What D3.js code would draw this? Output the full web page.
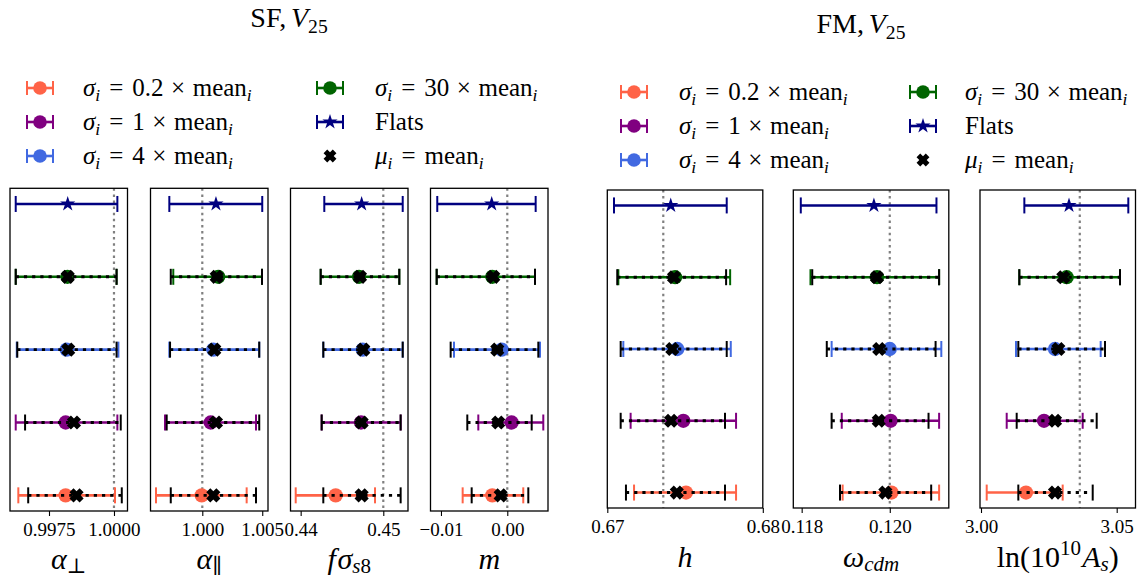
<!DOCTYPE html>
<html>
<head>
<meta charset="utf-8">
<script src="https://cdn.jsdelivr.net/npm/d3@7"></script>
<style>
  html, body { margin: 0; padding: 0; background: #fff; }
  svg { display: block; font-family: "Liberation Serif", "DejaVu Serif", serif; }
</style>
</head>
<body>
<svg id="chart" width="1142" height="578"></svg>
<script>
// Prior set-ups, row 0 at the bottom of every panel, Flats on top
const setupNames = ["0.2", "1", "4", "30", "Flats"];
const setupColors = ["#ff6347", "#800080", "#4169e1", "#006400", "#000080"];

// Each entry: [best fit, lower edge, upper edge]
// *Fit  : Gaussian priors centred as usual (5 set-ups incl. Flats)
// *Mu   : same widths, prior centres mu_i = mean_i (4 set-ups)

// ---- SF fits ----
const alphaPerpFit = [
  [0.99814, 0.99632, 1.00004],
  [0.99814, 0.99622, 1.00013],
  [0.99818, 0.99626, 1.00017],
  [0.99821, 0.99622, 1.00010],
  [0.99822, 0.99622, 1.00013]
];
const alphaPerpMu = [
  [0.99856, 0.99670, 1.00030],
  [0.99846, 0.99658, 1.00026],
  [0.99824, 0.99628, 1.00010],
  [0.99822, 0.99622, 1.00010]
];
const alphaParFit = [
  [0.99995, 0.99614, 1.00370],
  [1.00070, 0.99689, 1.00448],
  [1.00092, 0.99725, 1.00475],
  [1.00133, 0.99758, 1.00498],
  [1.00114, 0.99725, 1.00500]
];
const alphaParMu = [
  [1.00092, 0.99737, 1.00448],
  [1.00114, 0.99703, 1.00475],
  [1.00100, 0.99731, 1.00475],
  [1.00120, 0.99737, 1.00498]
];
const fsigma8Fit = [
  [0.44424, 0.43940, 0.44900],
  [0.44730, 0.44254, 0.45210],
  [0.44751, 0.44274, 0.45235],
  [0.44706, 0.44242, 0.45194],
  [0.44738, 0.44286, 0.45235]
];
const fsigma8Mu = [
  [0.44738, 0.44274, 0.45210],
  [0.44738, 0.44254, 0.45210],
  [0.44758, 0.44274, 0.45235],
  [0.44718, 0.44242, 0.45194]
];
const mFit = [
  [-0.00226, -0.00673, 0.00241],
  [ 0.00066, -0.00437, 0.00543],
  [-0.00084, -0.00804, 0.00493],
  [-0.00226, -0.01065, 0.00418],
  [-0.00235, -0.01056, 0.00428]
];
const mMu = [
  [-0.00100, -0.00537, 0.00317],
  [-0.00136, -0.00603, 0.00368],
  [-0.00151, -0.00854, 0.00468],
  [-0.00211, -0.01065, 0.00418]
];

// ---- FM fits ----
const hFit = [
  [0.67506, 0.67172, 0.67828],
  [0.67489, 0.67150, 0.67828],
  [0.67450, 0.67103, 0.67794],
  [0.67436, 0.67071, 0.67790],
  [0.67408, 0.67043, 0.67768]
];
const hMu = [
  [0.67447, 0.67120, 0.67757],
  [0.67410, 0.67086, 0.67757],
  [0.67418, 0.67086, 0.67768],
  [0.67429, 0.67064, 0.67764]
];
const omegaCdmFit = [
  [0.12004, 0.11893, 0.12112],
  [0.12002, 0.11891, 0.12112],
  [0.12000, 0.11868, 0.12117],
  [0.11971, 0.11820, 0.12112],
  [0.11964, 0.11798, 0.12106]
];
const omegaCdmMu = [
  [0.11990, 0.11887, 0.12094],
  [0.11975, 0.11868, 0.12088],
  [0.11976, 0.11857, 0.12104],
  [0.11971, 0.11824, 0.12112]
];
const lnAsFit = [
  [3.01658, 3.00210, 3.03010],
  [3.02321, 3.00947, 3.03747],
  [3.02727, 3.01290, 3.04410],
  [3.03157, 3.01412, 3.05122],
  [3.03243, 3.01597, 3.05428]
];
const lnAsMu = [
  [3.02727, 3.01375, 3.04116],
  [3.02727, 3.01315, 3.04263],
  [3.02849, 3.01375, 3.04569],
  [3.03033, 3.01412, 3.05122]
];

// Fiducial values (dotted reference lines)
const sfTruth = [1.0, 1.0, 0.45, 0.0];
const fmTruth = [0.6736, 0.12, 3.0364];

// Axis limits
const sfLimits = [[0.99600, 1.00052], [0.99568, 1.00548], [0.43877, 0.45299], [-0.01158, 0.00614]];
const fmLimits = [[0.67, 0.68], [0.11781, 0.12134], [2.99963, 3.05693]];

// Tick values and their labels
const sfTicks = [[0.9975, 1.0], [1.0, 1.005], [0.44, 0.45], [-0.01, 0.0]];
const sfTickLabels = [["0.9975", "1.0000"], ["1.000", "1.005"], ["0.44", "0.45"], ["\u22120.01", "0.00"]];
const fmTicks = [[0.67, 0.68], [0.118, 0.120], [3.00, 3.05]];
const fmTickLabels = [["0.67", "0.68"], ["0.118", "0.120"], ["3.00", "3.05"]];

const sfFits = [alphaPerpFit, alphaParFit, fsigma8Fit, mFit];
const sfMus = [alphaPerpMu, alphaParMu, fsigma8Mu, mMu];
const fmFits = [hFit, omegaCdmFit, lnAsFit];
const fmMus = [hMu, omegaCdmMu, lnAsMu];

// Axis labels as math fragments: [text, kind, leading gap in em]
const sfLabels = [
  [["\u03b1", "i"], ["\u22a5", "subr"]],
  [["\u03b1", "i"], ["\u2225", "subr"]],
  [["f", "i"], ["\u03c3", "i", 0.05], ["s", "sub"], ["8", "subr"]],
  [["m", "i"]]
];
const fmLabels = [
  [["h", "i"]],
  [["\u03c9", "i"], ["cdm", "sub"]],
  [["ln(10", "r"], ["10", "sup"], ["A", "i", 0.04], ["s", "sub"], [")", "r"]]
];

// ------------------------------------------------------------------
const svg = d3.select("#chart");

// filled "X" marker
const symbolX = {
  draw(ctx, size) {
    const e = Math.sqrt(size) / 2;
    const t = e * 0.4;
    const pts = [[t, e], [t, t], [e, t], [e, -t], [t, -t], [t, -e], [-t, -e], [-t, -t], [-e, -t], [-e, t], [-t, t], [-t, e]];
    const c = Math.SQRT1_2;
    pts.forEach(([px, py], k) => {
      const rx = (px - py) * c, ry = (px + py) * c;
      if (k) ctx.lineTo(rx, ry); else ctx.moveTo(rx, ry);
    });
    ctx.closePath();
  }
};
const circlePath = d3.symbol(d3.symbolCircle, 160)();
const starPath = d3.symbol(d3.symbolStar, 72)();
const xPath = d3.symbol(symbolX, 205)();

function mathText(sel, parts, size, subShift = 0.2) {
  let shift = 0;
  parts.forEach(([t, kind, gap]) => {
    const isSub = kind === "sub" || kind === "subr";
    const isSup = kind === "sup";
    const target = isSub ? subShift * size : isSup ? -0.4 * size : 0;
    const ts = sel.append("tspan").text(t)
      .attr("dy", target - shift)
      .attr("font-size", (isSub || isSup) ? 0.7 * size : size)
      .attr("font-style", (kind === "i" || kind === "sub") ? "italic" : "normal");
    if (gap) ts.attr("dx", gap * size);
    shift = target;
  });
}

function errorBar(g, x, y, row, d, color, dotted) {
  const yc = y(row);
  const bar = g.append("line")
    .attr("x1", x(d[1])).attr("x2", x(d[2]))
    .attr("y1", yc).attr("y2", yc)
    .attr("stroke", color)
    .attr("stroke-width", dotted ? 2.9 : 2.6);
  if (dotted) bar.attr("stroke-dasharray", "3.2,5");
  [d[1], d[2]].forEach(v => {
    g.append("line")
      .attr("x1", x(v)).attr("x2", x(v))
      .attr("y1", yc - 8).attr("y2", yc + 8)
      .attr("stroke", color).attr("stroke-width", 2);
  });
}

function drawPanel(opts) {
  const { x0, width, top, bottom, limits, truth, fits, mus, ticks, tickLabels, label, labelY } = opts;
  const g = svg.append("g");
  const x = d3.scaleLinear().domain(limits).range([x0, x0 + width]);
  const y = d3.scaleLinear().domain([-0.215, 4.215]).range([bottom, top]);

  // fiducial value
  g.append("line")
    .attr("x1", x(truth)).attr("x2", x(truth))
    .attr("y1", top).attr("y2", bottom)
    .attr("stroke", "#808080").attr("stroke-width", 2.2)
    .attr("stroke-dasharray", "2.5,3.6");

  fits.forEach((d, i) => {
    errorBar(g, x, y, i, d, setupColors[i], false);
    g.append("path")
      .attr("d", i === 4 ? starPath : circlePath)
      .attr("transform", `translate(${x(d[0])},${y(i)})`)
      .attr("fill", setupColors[i]);
    if (i < mus.length) {
      const m = mus[i];
      errorBar(g, x, y, i, m, "#000", true);
      g.append("path")
        .attr("d", xPath)
        .attr("transform", `translate(${x(m[0])},${y(i)})`)
        .attr("fill", "#000");
    }
  });

  // bottom axis
  const ax = g.append("g")
    .attr("transform", `translate(0,${bottom})`)
    .call(d3.axisBottom(x).tickValues(ticks)
      .tickFormat((v, k) => tickLabels[k])
      .tickSize(5).tickSizeOuter(0).tickPadding(7));
  ax.select(".domain").remove();
  ax.selectAll(".tick line").attr("stroke", "#000").attr("stroke-width", 1.1);
  ax.selectAll(".tick text")
    .attr("fill", "#000")
    .attr("font-family", "\"Liberation Serif\", \"DejaVu Serif\", serif")
    .attr("font-size", 19);

  // frame
  g.append("rect")
    .attr("x", x0).attr("y", top)
    .attr("width", width).attr("height", bottom - top)
    .attr("fill", "none").attr("stroke", "#000").attr("stroke-width", 1.3);

  // axis label
  const t = g.append("text")
    .attr("x", x0 + width / 2).attr("y", labelY)
    .attr("text-anchor", "middle").attr("fill", "#000");
  mathText(t, label, 30, 0.14);
}

// legend
function legendEntry(cx, cy, textX, idx, size) {
  const g = svg.append("g");
  if (idx < 5) {
    const color = setupColors[idx];
    g.append("line").attr("x1", cx - 13).attr("x2", cx + 13)
      .attr("y1", cy).attr("y2", cy)
      .attr("stroke", color).attr("stroke-width", 2.6);
    [cx - 13, cx + 13].forEach(px => {
      g.append("line").attr("x1", px).attr("x2", px)
        .attr("y1", cy - 7).attr("y2", cy + 7)
        .attr("stroke", color).attr("stroke-width", 2);
    });
    g.append("path").attr("d", idx === 4 ? starPath : d3.symbol(d3.symbolCircle, 145)())
      .attr("transform", `translate(${cx},${cy})`).attr("fill", color);
  } else {
    g.append("path").attr("d", d3.symbol(symbolX, 170)())
      .attr("transform", `translate(${cx},${cy})`).attr("fill", "#000");
  }
  const t = g.append("text").attr("x", textX).attr("y", cy + 8).attr("fill", "#000");
  let parts;
  if (idx < 4) {
    parts = [["\u03c3", "i"], ["i", "sub"], ["=", "r", 0.36], [setupNames[idx], "r", 0.36],
             ["\u00d7", "r", 0.3], ["mean", "r", 0.3], ["i", "sub"]];
  } else if (idx === 4) {
    parts = [[setupNames[4], "r"]];
  } else {
    parts = [["\u03bc", "i"], ["i", "sub"], ["=", "r", 0.36], ["mean", "r", 0.36], ["i", "sub"]];
  }
  mathText(t, parts, size);
}

function legend(colX, textX, rowsY) {
  const order = [[0, 3], [1, 4], [2, 5]];
  order.forEach((pair, r) => {
    pair.forEach((idx, c) => legendEntry(colX[c], rowsY[r], textX[c], idx, 25));
  });
}

// titles
const sfTitle = svg.append("text").attr("x", 289).attr("y", 27)
  .attr("text-anchor", "middle").attr("fill", "#000");
mathText(sfTitle, [["SF,", "r"], ["V", "i", 0.17], ["25", "subr"]], 28);
const fmTitle = svg.append("text").attr("x", 861).attr("y", 33)
  .attr("text-anchor", "middle").attr("fill", "#000");
mathText(fmTitle, [["FM,", "r"], ["V", "i", 0.17], ["25", "subr"]], 28);

legend([40, 330], [83, 375], [88, 122, 156]);
legend([634, 923], [679, 965], [92, 126, 160]);

// SF panels
const sfX0 = [10, 150.5, 290.5, 430.5];
sfFits.forEach((fits, p) => drawPanel({
  x0: sfX0[p], width: 117.5, top: 188.3, bottom: 511,
  limits: sfLimits[p], truth: sfTruth[p], fits, mus: sfMus[p],
  ticks: sfTicks[p], tickLabels: sfTickLabels[p], label: sfLabels[p], labelY: 569
}));

// FM panels
const fmX0 = [607.3, 793.3, 980];
fmFits.forEach((fits, p) => drawPanel({
  x0: fmX0[p], width: 155.5, top: 190, bottom: 508,
  limits: fmLimits[p], truth: fmTruth[p], fits, mus: fmMus[p],
  ticks: fmTicks[p], tickLabels: fmTickLabels[p], label: fmLabels[p], labelY: 567
}));
</script>
</body>
</html>
